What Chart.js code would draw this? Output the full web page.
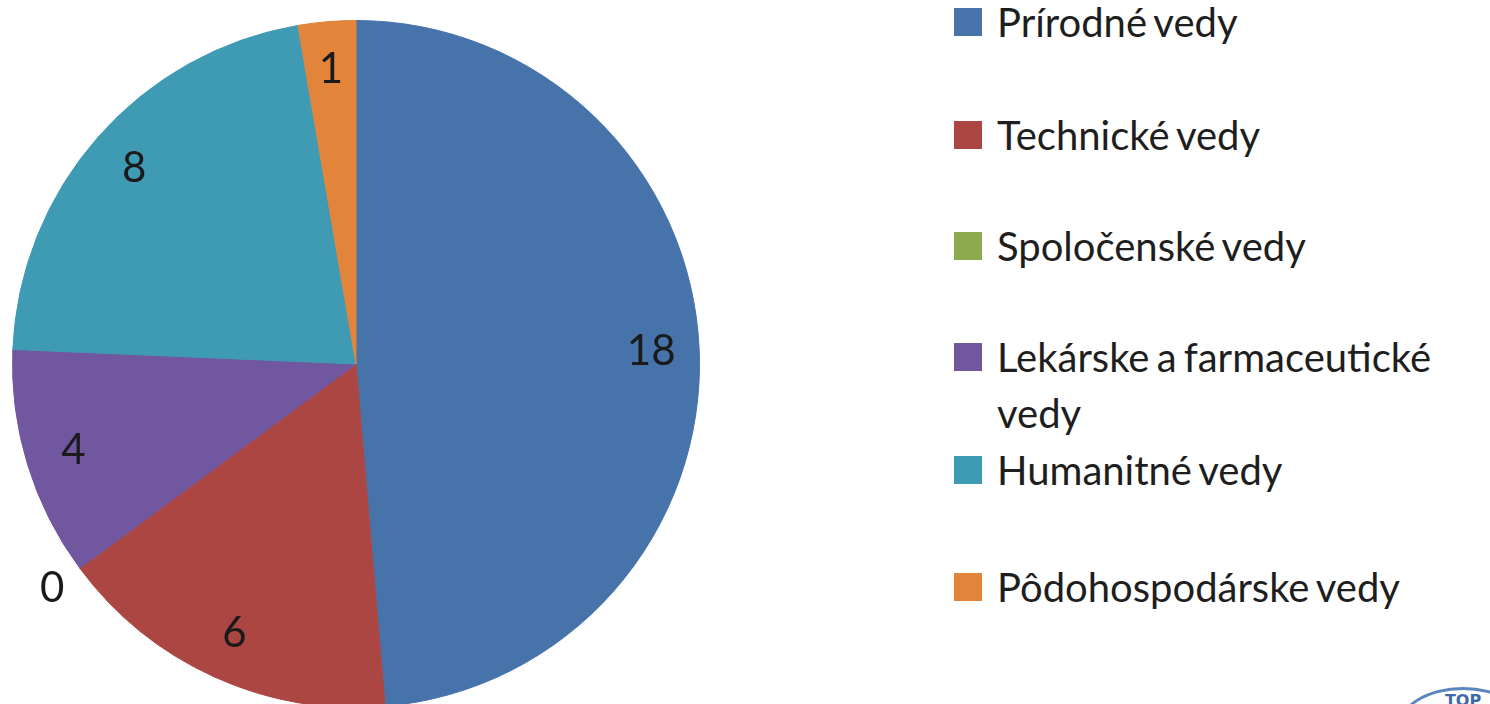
<!DOCTYPE html>
<html lang="sk">

<head>
  <meta charset="UTF-8">
  <meta name="viewport" content="width=device-width, initial-scale=1.0">
  <script src="https://cdn.jsdelivr.net/npm/chart.js"></script>
  <title>Vedné oblasti</title>
  <style>
    html, body {
      margin: 0;
      padding: 0;
      background: #fff;
      overflow: hidden;
      width: 1490px;
      height: 704px;
      font-family: Lato, "Open Sans", sans-serif;
    }
    .pie {
      position: absolute;
      left: 12px;
      top: 20px;
      width: 688px;
      height: 688px;
    }
    .legenda {
      position: absolute;
      left: 954px;
      top: 0;
      width: 530px;
      color: #1e1e1e;
      font-size: 40px;
      line-height: 56px;
    }
    .polozka {
      position: absolute;
      left: 0;
      display: flex;
      align-items: flex-start;
    }
    .stvorec {
      width: 28px;
      height: 28px;
      margin-top: 14px;
      margin-right: 15px;
      flex: none;
    }
    .text {
      width: 470px;
      word-spacing: -3px;
    }
    .logo {
      position: absolute;
      left: 1398px;
      top: 687px;
      width: 130px;
      height: 80px;
      border-radius: 50%;
      border: 3px solid #5b86bd;
      color: #3d6aa8;
      font: bold 16px "DejaVu Sans", sans-serif;
      text-align: center;
      line-height: 22px;
      box-sizing: border-box;
    }
  </style>
</head>

<body>
  <div class="pie">
    <canvas id="chartPie"></canvas>
  </div>
  <div class="legenda" id="legenda"></div>
  <div class="logo">TOP</div>

  <script>
    // dáta z grafu
    const oblasti = [
      'Prírodné vedy',
      'Technické vedy',
      'Spoločenské vedy',
      'Lekárske a farmaceutické vedy',
      'Humanitné vedy',
      'Pôdohospodárske vedy'
    ];
    const pocty = [18, 6, 0, 4, 8, 1];
    const farby = ['#4673A9', '#AC4643', '#8DAB4C', '#7156A0', '#3F9AB4', '#E2843A'];

    // hodnoty do výsečí
    const popisky = {
      id: 'popisky',
      afterDatasetsDraw(chart) {
        const ctx = chart.ctx;
        const meta = chart.getDatasetMeta(0);
        ctx.save();
        ctx.font = '42px Lato, "Open Sans", sans-serif';
        ctx.fillStyle = '#1a1a1a';
        ctx.textAlign = 'center';
        ctx.textBaseline = 'middle';
        meta.data.forEach(function (arc, i) {
          const p = arc.getProps(['x', 'y', 'startAngle', 'endAngle', 'outerRadius'], true);
          const uhol = (p.startAngle + p.endAngle) / 2;
          const r = pocty[i] === 0 ? p.outerRadius * 1.1 : p.outerRadius * 0.86;
          ctx.fillText(String(pocty[i]), p.x + Math.cos(uhol) * r, p.y + Math.sin(uhol) * r);
        });
        ctx.restore();
      }
    };

    const dataPie = {
      labels: oblasti,
      datasets: [{
        data: pocty,
        backgroundColor: farby,
        borderColor: farby,
        borderWidth: 1
      }]
    };

    const configPie = {
      type: 'pie',
      data: dataPie,
      options: {
        responsive: true,
        maintainAspectRatio: false,
        animation: false,
        plugins: {
          legend: { display: false },
          tooltip: { enabled: false }
        }
      },
      plugins: [popisky]
    };

    const pie = new Chart(document.getElementById('chartPie'), configPie);

    // legenda vpravo
    const stredy = [22, 135, 246, 357, 470, 587];
    const legenda = document.getElementById('legenda');
    for (let i = 0; i < oblasti.length; i++) {
      const div = document.createElement('div');
      div.className = 'polozka';
      div.style.top = (stredy[i] - 28) + 'px';
      div.innerHTML = '<span class="stvorec" style="background:' + farby[i] + '"></span>' +
        '<span class="text">' + oblasti[i] + '</span>';
      legenda.appendChild(div);
    }
  </script>
</body>

</html>
